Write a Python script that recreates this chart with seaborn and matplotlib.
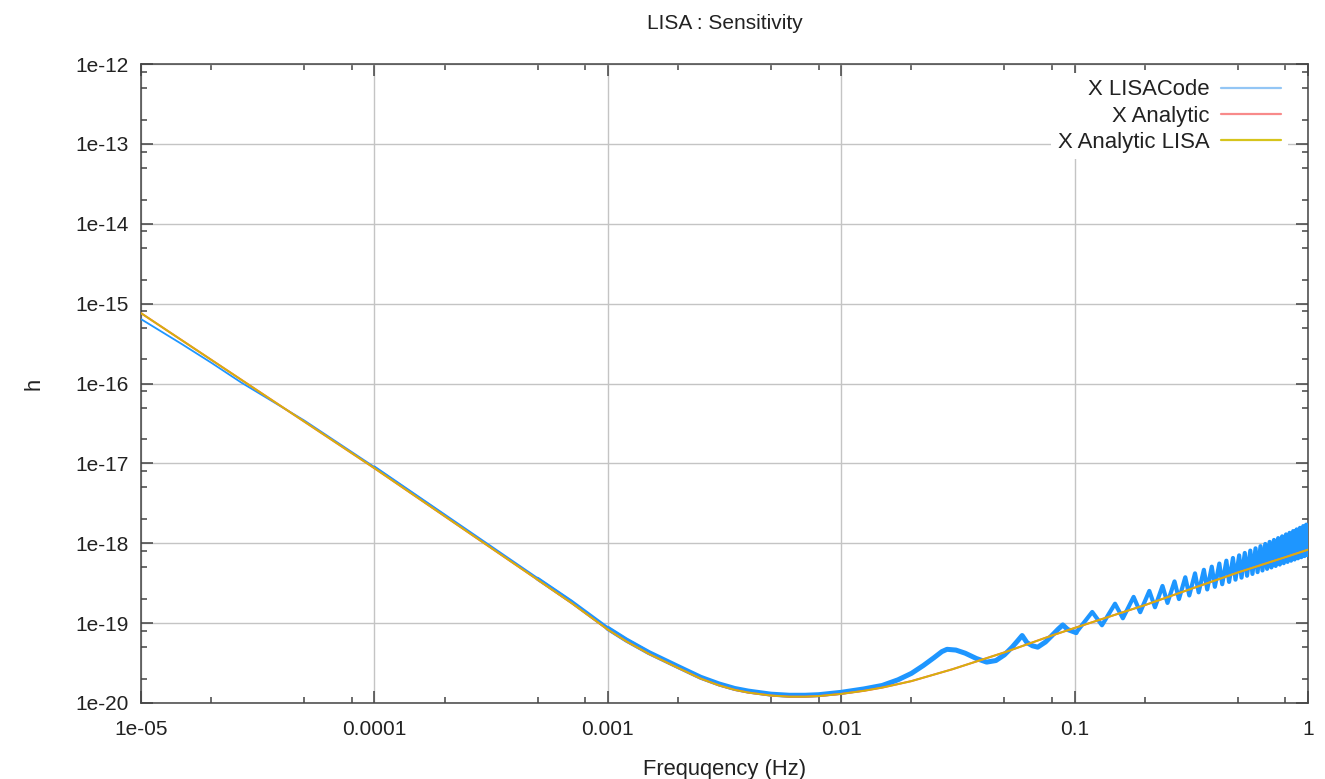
import numpy as np
import pandas as pd
import matplotlib
matplotlib.use("Agg")
import matplotlib.pyplot as plt
import seaborn as sns
from matplotlib.lines import Line2D
from matplotlib.ticker import FixedLocator, FixedFormatter, NullFormatter

# ---------------- data ----------------
title = "LISA : Sensitivity"
xlabel = "Frequqency (Hz)"
ylabel = "h"
series_names = ["X LISACode", "X Analytic", "X Analytic LISA"]

x_major = [1e-5, 1e-4, 1e-3, 1e-2, 1e-1, 1.0]
x_major_labels = ["1e-05", "0.0001", "0.001", "0.01", "0.1", "1"]
y_major = [1e-20, 1e-19, 1e-18, 1e-17, 1e-16, 1e-15, 1e-14, 1e-13, 1e-12]
y_major_labels = ["1e-20", "1e-19", "1e-18", "1e-17", "1e-16", "1e-15",
                  "1e-14", "1e-13", "1e-12"]
minor_subs = [2, 5, 8]

lisacode_f = [1e-5, 1.5e-5, 2e-5, 2.7e-5, 5e-5, 1e-4, 2e-4, 5e-4, 7e-4, 1e-3,
              1.2e-3, 1.5e-3, 2e-3, 2.5e-3, 3e-3, 3.5e-3, 4e-3, 5e-3, 6e-3, 7e-3,
              8e-3, 1e-2, 1.25e-2, 1.5e-2, 1.75e-2, 2e-2, 2.25e-2, 2.5e-2, 2.7e-2,
              0.0284, 0.031, 0.034, 0.038, 0.042, 0.046, 0.05, 0.054, 0.057,
              0.0596, 0.0625, 0.066, 0.0695, 0.075, 0.08, 0.085, 0.089, 0.0935,
              0.1015,
              0.119, 0.131, 0.149, 0.161, 0.179, 0.191, 0.209, 0.221, 0.238, 0.250,
              0.268, 0.280, 0.298, 0.310, 0.328, 0.340, 0.358, 0.370, 0.387, 0.399,
              0.417, 0.429, 0.447, 0.459, 0.477, 0.489, 0.507, 0.519, 0.536, 0.548,
              0.566, 0.578, 0.596, 0.608, 0.626, 0.638, 0.656, 0.668, 0.685, 0.697,
              0.715, 0.727, 0.745, 0.757, 0.775, 0.787, 0.805, 0.817, 0.834, 0.846,
              0.864, 0.876, 0.894, 0.906, 0.924, 0.936, 0.954, 0.966, 0.983, 0.995,
              1.0]
lisacode_h = [6.4e-16, 3.1e-16, 1.82e-16, 1.02e-16, 3.45e-17, 9.0e-18, 2.25e-18,
              3.6e-19, 1.85e-19, 8.6e-20, 6.15e-20, 4.28e-20, 2.86e-20, 2.1e-20,
              1.73e-20, 1.52e-20, 1.41e-20, 1.29e-20, 1.25e-20, 1.25e-20,
              1.27e-20, 1.36e-20, 1.5e-20, 1.66e-20, 1.95e-20, 2.35e-20,
              2.95e-20, 3.7e-20, 4.4e-20,
              4.7e-20, 4.6e-20, 4.2e-20, 3.6e-20, 3.25e-20, 3.4e-20, 4.0e-20,
              5.0e-20, 6.0e-20, 7.0e-20, 5.7e-20, 5.2e-20, 5.0e-20, 5.8e-20,
              7.0e-20, 8.4e-20, 9.5e-20, 8.3e-20, 7.6e-20,
              1.38e-19, 9.4e-20, 1.75e-19, 1.15e-19, 2.13e-19, 1.37e-19,
              2.53e-19, 1.58e-19, 2.92e-19, 1.79e-19, 3.33e-19, 2.00e-19,
              3.75e-19, 2.22e-19, 4.20e-19, 2.43e-19, 4.65e-19, 2.64e-19,
              5.09e-19, 2.85e-19, 5.57e-19, 3.07e-19, 6.05e-19, 3.28e-19,
              6.54e-19, 3.50e-19, 7.05e-19, 3.71e-19, 7.56e-19, 3.92e-19,
              8.09e-19, 4.13e-19, 8.64e-19, 4.35e-19, 9.20e-19, 4.56e-19,
              9.80e-19, 4.78e-19, 1.04e-18, 4.98e-19, 1.10e-18, 5.20e-19,
              1.16e-18, 5.41e-19, 1.22e-18, 5.63e-19, 1.29e-18, 5.84e-19,
              1.35e-18, 6.05e-19, 1.42e-18, 6.26e-19, 1.49e-18, 6.48e-19,
              1.56e-18, 6.69e-19, 1.64e-18, 6.91e-19, 1.71e-18, 7.11e-19,
              1.1e-18]

analytic_f = [1e-5, 1e-4, 5e-4, 7e-4, 1e-3, 1.2e-3, 1.5e-3, 2e-3, 2.5e-3, 3e-3,
              3.5e-3, 4e-3, 5e-3, 6e-3, 7e-3, 8e-3, 1e-2, 1.25e-2, 1.5e-2, 2e-2,
              3e-2, 5e-2, 8e-2, 0.1, 0.15, 0.2, 0.3, 0.5, 0.8, 1.0]
analytic_h = [7.6e-16, 8.7e-18, 3.5e-19, 1.78e-19, 8.3e-20, 5.92e-20, 4.12e-20,
              2.75e-20, 2.02e-20, 1.66e-20, 1.46e-20, 1.35e-20, 1.24e-20,
              1.2e-20, 1.2e-20, 1.22e-20, 1.3e-20, 1.42e-20, 1.56e-20,
              1.88e-20, 2.65e-20, 4.3e-20, 7.0e-20, 8.7e-20, 1.28e-19, 1.68e-19,
              2.55e-19, 4.3e-19, 6.7e-19, 8.3e-19]

analytic_lisa_f = [1e-5, 1e-4, 5e-4, 7e-4, 1e-3, 1.2e-3, 1.5e-3, 2e-3, 2.5e-3,
                   3e-3, 3.5e-3, 4e-3, 5e-3, 6e-3, 7e-3, 8e-3, 1e-2, 1.25e-2,
                   1.5e-2, 2e-2, 3e-2, 5e-2, 8e-2, 0.1, 0.15, 0.2, 0.3, 0.5,
                   0.8, 1.0]
analytic_lisa_h = [7.6e-16, 8.7e-18, 3.5e-19, 1.78e-19, 8.3e-20, 5.92e-20,
                   4.12e-20, 2.75e-20, 2.02e-20, 1.66e-20, 1.46e-20, 1.35e-20,
                   1.24e-20, 1.2e-20, 1.2e-20, 1.22e-20, 1.3e-20, 1.42e-20,
                   1.56e-20, 1.88e-20, 2.65e-20, 4.3e-20, 7.0e-20, 8.7e-20,
                   1.28e-19, 1.68e-19, 2.55e-19, 4.3e-19, 6.7e-19, 8.3e-19]

# ---------------- style ----------------
sns.set_theme(style="white")
plt.rcParams["font.family"] = ["Liberation Sans", "DejaVu Sans"]
FS_TICK = 15.0
FS_TITLE = 15.0
FS_LABEL = 15.8
FS_LEG = 15.9
BLUE = "#1e96ff"
RED = "#ff6060"
YELLOW = "#d4b40a"
TXT = "#222222"
AXC = "#444444"

fig = plt.figure(figsize=(13.25, 7.79), dpi=100)
ax = fig.add_axes([141 / 1325, 1 - 703 / 779, (1308 - 141) / 1325, (703 - 64) / 779])

code = pd.DataFrame({"f": lisacode_f, "h": lisacode_h})
ana = pd.DataFrame({"f": analytic_f, "h": analytic_h})
ana_l = pd.DataFrame({"f": analytic_lisa_f, "h": analytic_lisa_h})

segments = [
    (code.f <= 2e-4, 1.3),
    ((code.f >= 1e-4) & (code.f <= 7e-4), 2.1),
    ((code.f >= 5e-4) & (code.f <= 1.5e-3), 2.8),
    ((code.f >= 1e-3) & (code.f <= 0.11), 3.6),
    (code.f >= 0.1, 3.0),
]
for mask, lw in segments:
    sns.lineplot(data=code[mask], x="f", y="h", ax=ax, color=BLUE, lw=lw,
                 estimator=None, sort=False, zorder=3, legend=False)
sns.lineplot(data=ana, x="f", y="h", ax=ax, color=RED, lw=1.5,
             estimator=None, sort=False, zorder=4, legend=False)
sns.lineplot(data=ana_l, x="f", y="h", ax=ax, color=YELLOW, lw=1.3,
             estimator=None, sort=False, zorder=5, legend=False)

ax.set_xscale("log")
ax.set_yscale("log")
ax.set_xlim(x_major[0], x_major[-1])
ax.set_ylim(y_major[0], y_major[-1])

ax.xaxis.set_major_locator(FixedLocator(x_major))
ax.xaxis.set_major_formatter(FixedFormatter(x_major_labels))
ax.yaxis.set_major_locator(FixedLocator(y_major))
ax.yaxis.set_major_formatter(FixedFormatter(y_major_labels))
xminor = [m * d for d in x_major[:-1] for m in minor_subs]
yminor = [m * d for d in y_major[:-1] for m in minor_subs]
ax.xaxis.set_minor_locator(FixedLocator(xminor))
ax.yaxis.set_minor_locator(FixedLocator(yminor))
ax.xaxis.set_minor_formatter(NullFormatter())
ax.yaxis.set_minor_formatter(NullFormatter())

ax.tick_params(which="both", direction="in", top=True, right=True,
               bottom=True, left=True, colors=AXC, labelcolor=TXT,
               labelsize=FS_TICK, width=1.1)
ax.tick_params(which="major", length=8.6)
ax.tick_params(which="minor", length=4.3)
ax.tick_params(axis="x", which="major", pad=12)
ax.tick_params(axis="y", which="major", pad=9)

ax.grid(True, which="major", color="#c4c4c4", lw=1.0, zorder=0)
ax.set_axisbelow(True)
for s in ax.spines.values():
    s.set_color(AXC)
    s.set_linewidth(1.1)
    s.set_visible(True)

ax.set_title(title, fontsize=FS_TITLE, color=TXT, pad=25)
ax.set_xlabel(xlabel, fontsize=FS_LABEL, color=TXT, labelpad=15)
ax.set_ylabel(ylabel, fontsize=FS_LABEL, color=TXT, labelpad=22)

handles = [Line2D([], [], color="#93c6f5", lw=1.6),
           Line2D([], [], color="#f88a8a", lw=1.6),
           Line2D([], [], color="#d6c41c", lw=1.6)]
leg = ax.legend(handles, series_names, loc="upper right",
                bbox_to_anchor=(0.9829, 0.9862), borderaxespad=0,
                borderpad=0.3, markerfirst=False, frameon=True,
                fontsize=FS_LEG, handlelength=2.72, handletextpad=0.54,
                labelspacing=0.23, fancybox=False)
leg.get_frame().set_facecolor("white")
leg.get_frame().set_edgecolor("none")
leg.get_frame().set_alpha(1.0)
for t in leg.get_texts():
    t.set_color(TXT)
leg.set_zorder(10)

fig.savefig("out.png", dpi=100)
